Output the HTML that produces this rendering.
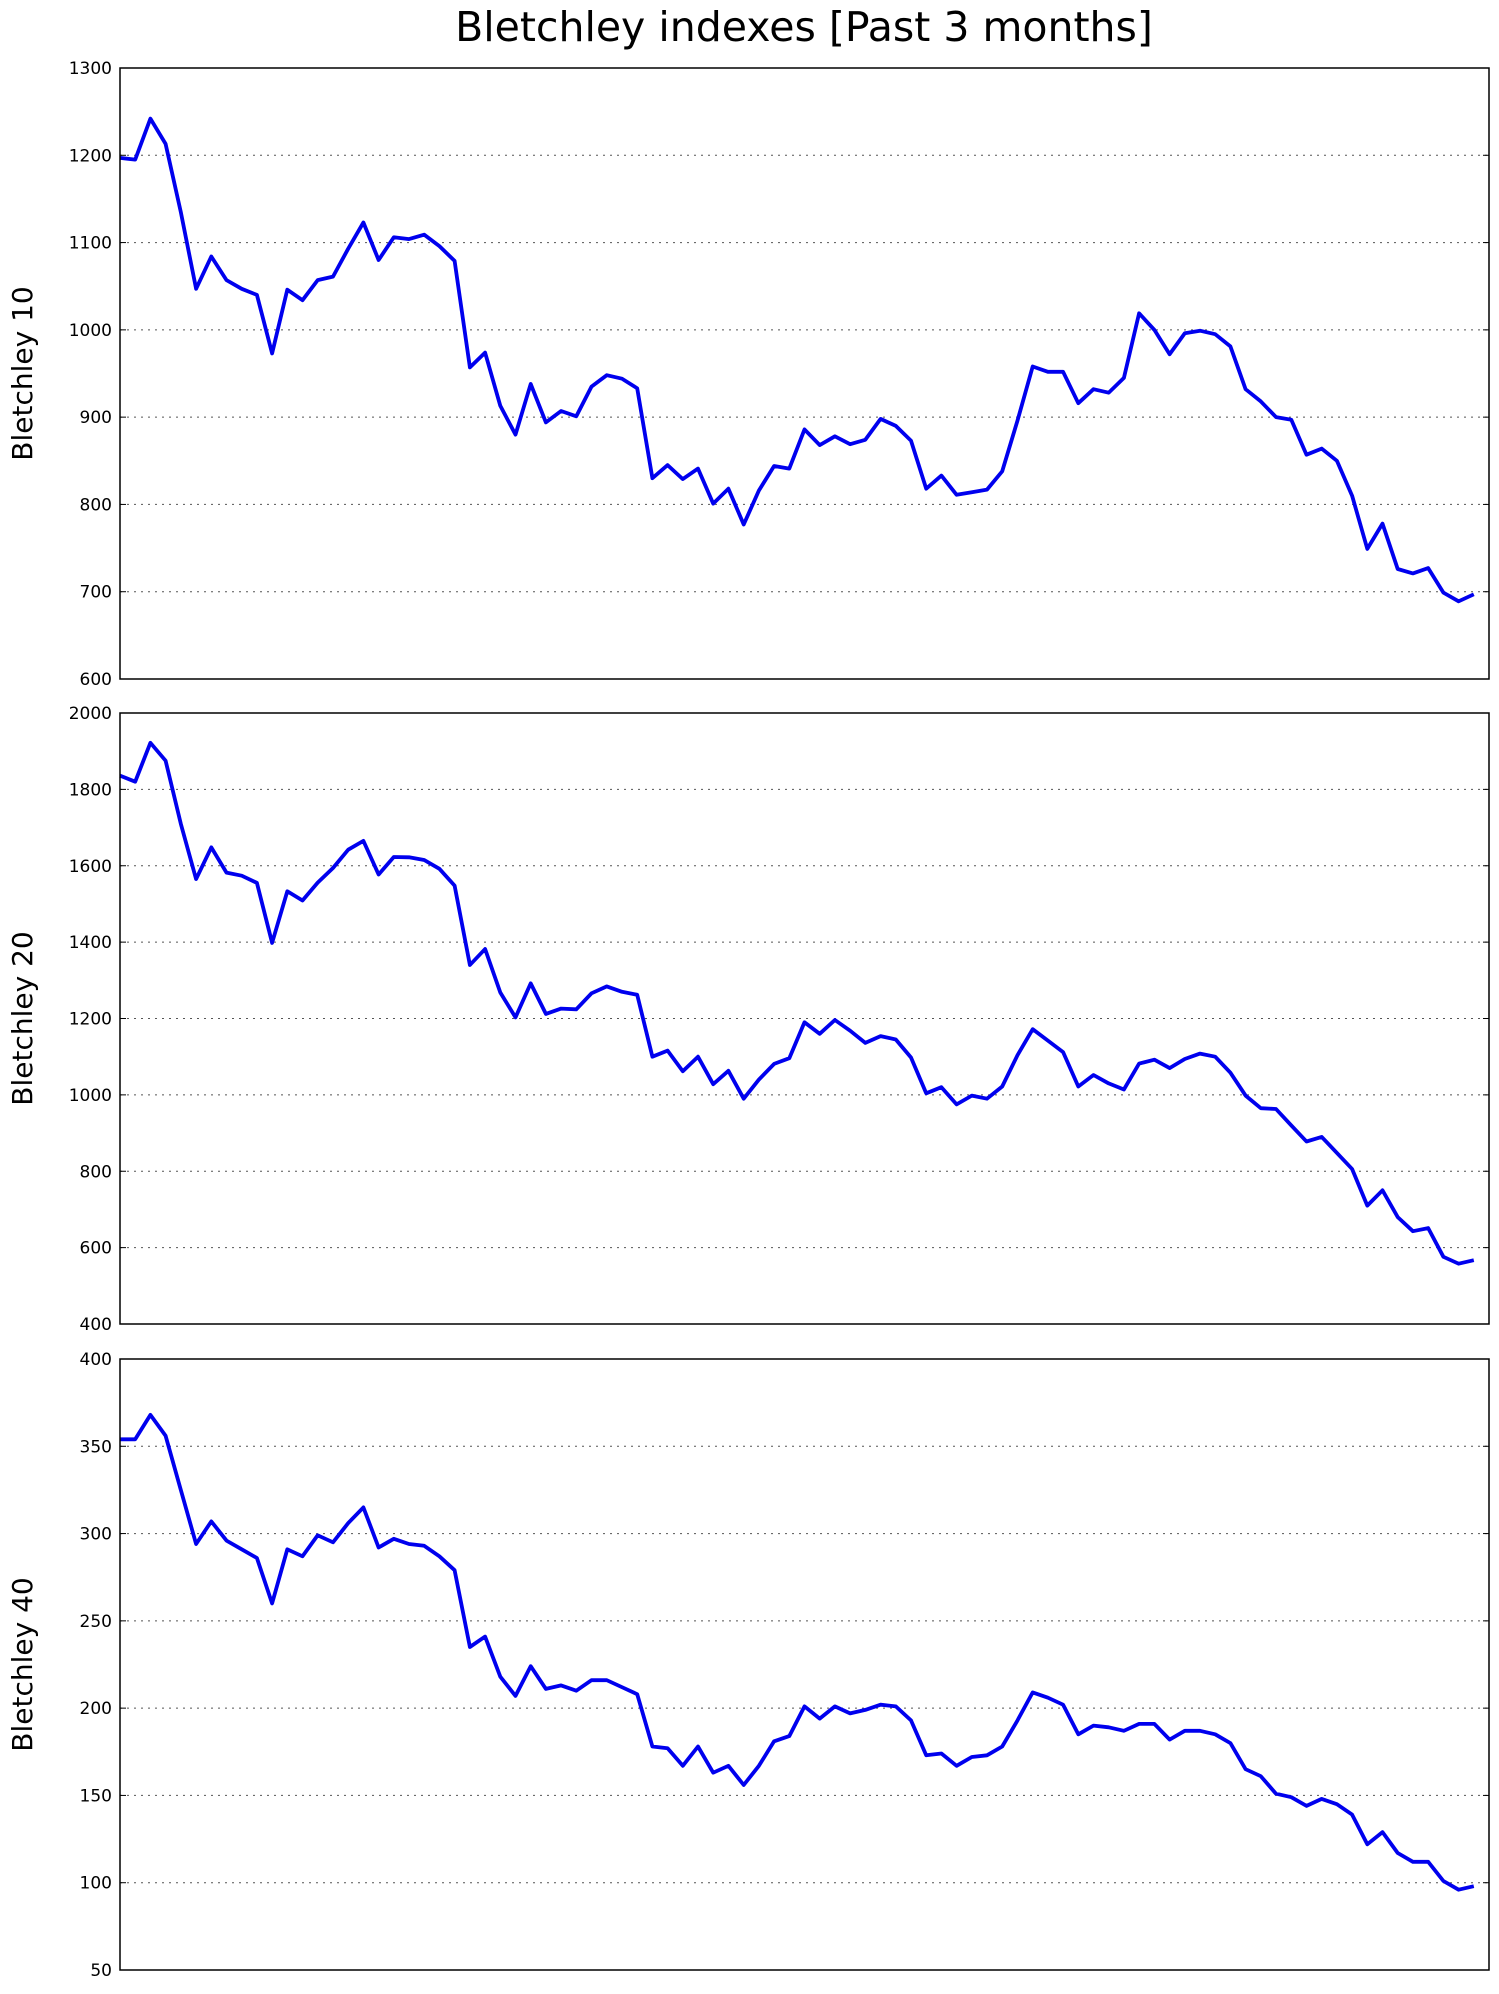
<!DOCTYPE html>
<html><head><meta charset="utf-8"><style>
html,body{margin:0;padding:0;background:#fff;}
svg text{font-family:"DejaVu Sans","Liberation Sans",sans-serif;}
</style></head><body>
<svg id="fig" width="1499" height="1989" xmlns="http://www.w3.org/2000/svg">
<rect width="1499" height="1989" fill="#fff"/>
<text x="804" y="41" font-size="41" text-anchor="middle">Bletchley indexes [Past 3 months]</text>
</svg>
<script>
const series10 = [1197,1195,1242,1213,1135,1047,1084,1057,1047,1040,973,1046,1034,1057,1061,1093,1123,1080,1106,1104,1109,1096,1079,957,974,913,880,938,894,907,901,935,948,944,933,830,845,829,841,801,818,777,816,844,841,886,868,878,869,874,898,890,873,818,833,811,814,817,838,896,958,952,952,916,932,928,945,1019,1000,972,996,999,995,981,932,918,900,897,857,864,850,810,749,778,726,721,727,699,689,697];
const series20 = [1836,1820,1922,1875,1710,1565,1648,1582,1574,1555,1398,1533,1509,1556,1594,1642,1665,1577,1623,1622,1615,1592,1548,1340,1382,1268,1203,1292,1212,1226,1224,1266,1284,1270,1262,1100,1116,1062,1100,1028,1063,990,1040,1081,1096,1190,1160,1196,1168,1136,1154,1145,1098,1004,1020,975,998,990,1022,1104,1172,1142,1112,1022,1052,1030,1014,1082,1092,1070,1094,1108,1100,1058,998,965,963,920,878,890,848,806,710,750,680,643,651,576,558,567];
const series40 = [354,354,368,356,325,294,307,296,291,286,260,291,287,299,295,306,315,292,297,294,293,287,279,235,241,218,207,224,211,213,210,216,216,212,208,178,177,167,178,163,167,156,167,181,184,201,194,201,197,199,202,201,193,173,174,167,172,173,178,193,209,206,202,185,190,189,187,191,191,182,187,187,185,180,165,161,151,149,144,148,145,139,122,129,117,112,112,101,96,98];
const ticks10 = [600,700,800,900,1000,1100,1200,1300];
const ticks20 = [400,600,800,1000,1200,1400,1600,1800,2000];
const ticks40 = [50,100,150,200,250,300,350,400];
const labels = ["Bletchley 10","Bletchley 20","Bletchley 40"];

const NS = "http://www.w3.org/2000/svg";
const svg = document.getElementById('fig');
const L = 120, R = 1489;
const panels = [
  {top:68, bottom:679, data:series10, ticks:ticks10, label:labels[0], key:'b10'},
  {top:713, bottom:1324, data:series20, ticks:ticks20, label:labels[1], key:'b20'},
  {top:1359, bottom:1970, data:series40, ticks:ticks40, label:labels[2], key:'b40'}
];
function mk(tag, attrs){const e=document.createElementNS(NS,tag);for(const k in attrs)e.setAttribute(k,attrs[k]);return e;}
panels.forEach(p=>{
  const g = mk('g',{});
  
  
  svg.appendChild(g);
  const ymin = p.ticks[0], ymax = p.ticks[p.ticks.length-1];
  const y = v => p.bottom - (v - ymin)/(ymax - ymin)*(p.bottom - p.top);
  const n = p.data.length;
  const x = i => L + i/n*(R - L);
  p.ticks.forEach((t,k)=>{
    const yy = y(t);
    if(k>0 && k<p.ticks.length-1){
      const gl = mk('line',{x1:L,x2:R,y1:yy,y2:yy,stroke:'#555','stroke-width':1,'stroke-dasharray':'2,5'});
      
      
      g.appendChild(gl);
    }
    const tk = mk('line',{x1:L,x2:L+6,y1:yy,y2:yy,stroke:'#000','stroke-width':1});
    g.appendChild(tk);
    const tk2 = mk('line',{x1:R-6,x2:R,y1:yy,y2:yy,stroke:'#000','stroke-width':1});
    g.appendChild(tk2);
    const tl = mk('text',{x:L-8,y:yy+6,'font-size':17,'text-anchor':'end'});
    tl.textContent = t;
    
    
    g.appendChild(tl);
  });
  const pts = p.data.map((v,i)=>x(i).toFixed(1)+','+y(v).toFixed(1)).join(' ');
  const line = mk('polyline',{points:pts,fill:'none',stroke:'#0000ee','stroke-width':3.8,'stroke-linejoin':'round'});
  
  
  g.appendChild(line);
  const fr = mk('rect',{x:L,y:p.top,width:R-L,height:p.bottom-p.top,fill:'none',stroke:'#000','stroke-width':1.5});
  
  
  g.appendChild(fr);
  const cy = (p.top+p.bottom)/2;
  const yl = mk('text',{x:0,y:0,'font-size':28,'text-anchor':'middle',transform:`translate(32,${cy}) rotate(-90)`});
  yl.textContent = p.label;
  
  
  g.appendChild(yl);
});
</script>
</body></html>
